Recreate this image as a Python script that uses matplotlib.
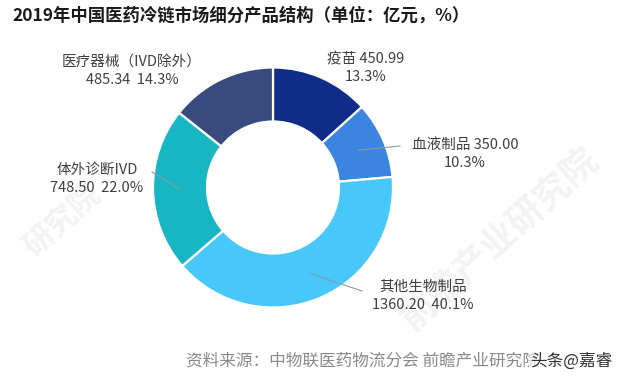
import numpy as np
import matplotlib
matplotlib.use("Agg")
import matplotlib.pyplot as plt

plt.rcParams['font.family'] = ['Noto Sans CJK SC', 'DejaVu Sans']

# ---- data ----
categories = ['疫苗', '血液制品', '其他生物制品', '体外诊断IVD', '医疗器械（IVD除外）']
values = [450.99, 350.00, 1360.20, 748.50, 485.34]
colors = ['#0E2C88', '#3B84E0', '#47C7FA', '#17B6C2', '#384A7E']
title = '2019年中国医药冷链市场细分产品结构（单位：亿元，%）'
source = '资料来源：中物联医药物流分会 前瞻产业研究院'

W, H = 622, 385
fig = plt.figure(figsize=(W / 100, H / 100), dpi=100)
ax = fig.add_axes([0, 0, 1, 1])

cx, cy = 273, H - 187.5
R, ring = 120, 54

wedges, _ = ax.pie(values, colors=colors, startangle=90, counterclock=False,
                   radius=R, center=(cx, cy),
                   wedgeprops=dict(width=ring, edgecolor='white', linewidth=1.6))
ax.set_xlim(0, W)
ax.set_ylim(0, H)
ax.set_aspect('equal')
ax.axis('off')

total = sum(values)
pcts = [v / total * 100 for v in values]

# label layout: (center x, top-line y in px from top, style, leader end or None)
layout = {
    '疫苗': (366, 52, 'inline', None),
    '血液制品': (465, 138, 'inline', (400, 146)),
    '其他生物制品': (423, 280, 'stack', (362, 291)),
    '体外诊断IVD': (97, 163, 'stack', (152, 172)),
    '医疗器械（IVD除外）': (132, 55, 'stack', None),
}

txtc = '#404040'
for w, name, v, p in zip(wedges, categories, values, pcts):
    lx, ly, style, lend = layout[name]
    if style == 'inline':
        s = f'{name} {v:.2f}\n{p:.1f}%'
    else:
        s = f'{name}\n{v:.2f}  {p:.1f}%'
    ax.text(lx, H - ly, s, ha='center', va='top', fontsize=10.5, color=txtc,
            linespacing=1.35)
    if lend is not None:
        mid = np.deg2rad((w.theta1 + w.theta2) / 2)
        r0 = R - ring / 2
        ax.plot([cx + r0 * np.cos(mid), lend[0]], [cy + r0 * np.sin(mid), H - lend[1]],
                color='#8C9AA8', lw=0.8)

# faint watermark
ax.text(500, H - 240, '前瞻产业研究院', rotation=42, fontsize=26, color='#000000',
        alpha=0.05, ha='center', va='center', fontweight='bold')
ax.text(62, H - 220, '研究院', rotation=42, fontsize=22, color='#000000',
        alpha=0.05, ha='center', va='center', fontweight='bold')

fig.text(12 / W, 1 - 16 / H, title, ha='left', va='center', fontsize=12.5,
         fontweight='bold', color='#1A1A1A')
fig.text(186 / W, 1 - 361 / H, source, ha='left', va='center', fontsize=12,
         color='#8A8A8A')
fig.text(612 / W, 1 - 361 / H, '头条@嘉睿', ha='right', va='center', fontsize=12,
         color='#333333',
         bbox=dict(facecolor='white', edgecolor='none', pad=0.5, alpha=0.6))

fig.savefig('out.png', dpi=100)
